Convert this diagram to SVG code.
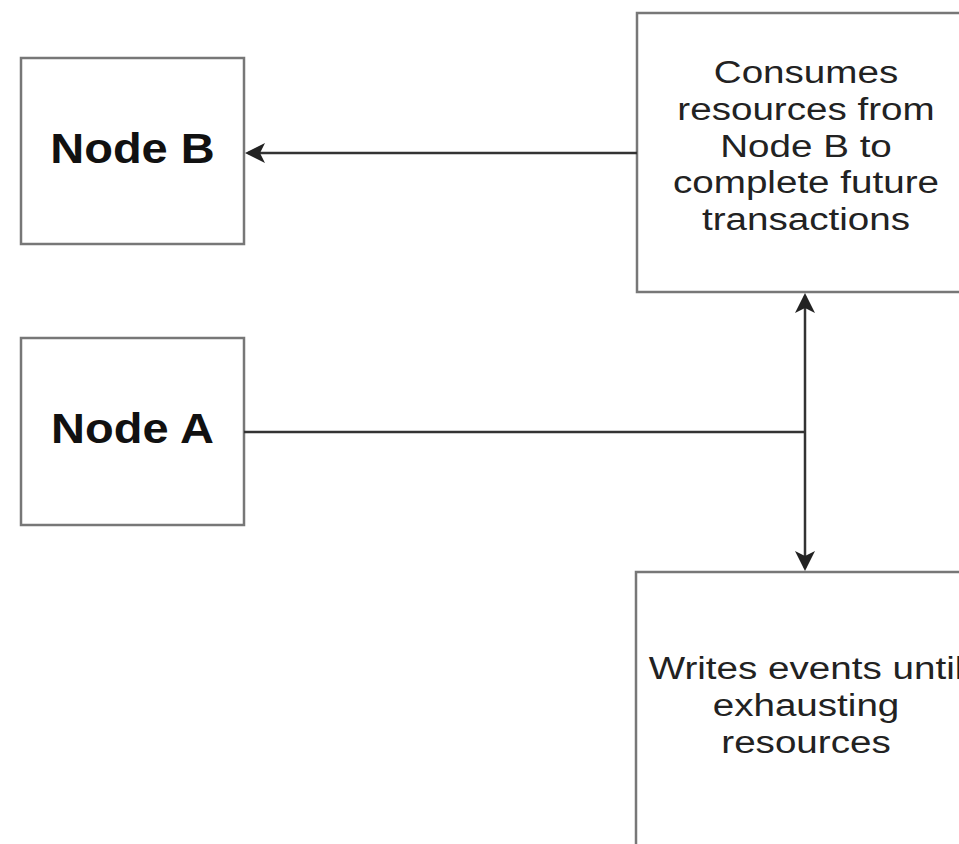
<svg xmlns="http://www.w3.org/2000/svg" width="959" height="844" viewBox="0 0 959 844">
  <style>
    .box { fill: #ffffff; stroke: #777777; stroke-width: 2.5; }
    .edge { fill: none; stroke: #333333; stroke-width: 2.5; }
    .title { font-family: "Liberation Sans", Arial, sans-serif; font-weight: bold; font-size: 42px; fill: #111111; text-anchor: middle; }
    .body { font-family: "Liberation Sans", Arial, sans-serif; font-size: 31px; fill: #222222; text-anchor: middle; }
  </style>
  <defs>
    <marker id="arrow" viewBox="0 0 20 20" markerWidth="20" markerHeight="20" markerUnits="userSpaceOnUse" refX="17" refY="10" orient="auto">
      <path d="M20,10 L0,0 L5,10 L0,20 Z" fill="#222222"/>
    </marker>
  </defs>
  <rect width="959" height="844" fill="#ffffff"/>

  <g id="node-b">
    <rect class="box" x="21" y="58" width="223" height="186"/>
    <g transform="translate(132.5,0) scale(1.12,1)">
      <text class="title" x="0" y="163">Node B</text>
    </g>
  </g>

  <g id="node-a">
    <rect class="box" x="21" y="338" width="223" height="187"/>
    <g transform="translate(132.5,0) scale(1.12,1)">
      <text class="title" x="0" y="443">Node A</text>
    </g>
  </g>

  <g id="consumer">
    <rect class="box" x="637" y="13" width="345" height="279"/>
    <g transform="translate(806,0) scale(1.245,1)">
      <text class="body" x="0" y="83">Consumes</text>
      <text class="body" x="0" y="120">resources from</text>
      <text class="body" x="0" y="157">Node B to</text>
      <text class="body" x="0" y="193">complete future</text>
      <text class="body" x="0" y="230">transactions</text>
    </g>
  </g>

  <g id="writer">
    <rect class="box" x="636" y="572" width="345" height="290"/>
    <g transform="translate(806,0) scale(1.245,1)">
      <text class="body" x="0" y="679">Writes events until</text>
      <text class="body" x="0" y="716">exhausting</text>
      <text class="body" x="0" y="753">resources</text>
    </g>
  </g>

  <g id="connectors">
    <path class="edge" d="M637,153 L248,153" marker-end="url(#arrow)"/>
    <path class="edge" d="M244,432 L805,432"/>
    <path class="edge" d="M805,432 L805,296" marker-end="url(#arrow)"/>
    <path class="edge" d="M805,432 L805,568" marker-end="url(#arrow)"/>
  </g>
</svg>
